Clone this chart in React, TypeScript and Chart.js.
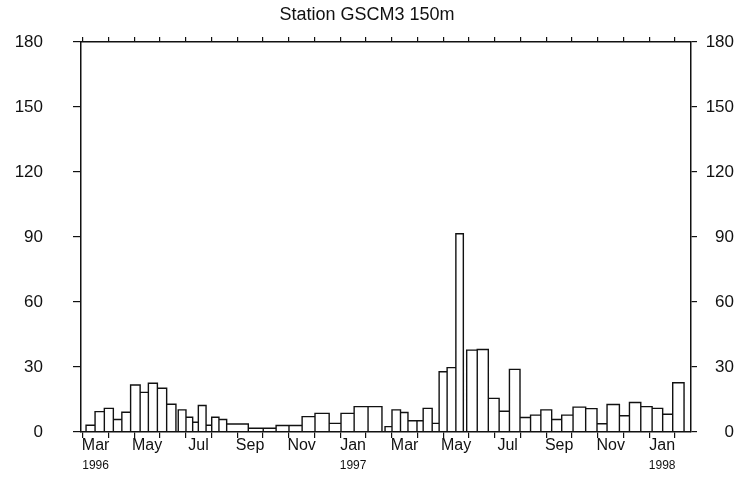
import { useEffect, useRef } from "react";
import { Chart, registerables } from "chart.js";

Chart.register(...registerables);

// Trap sampling intervals, in months counted from 1 March 1996
const binStart = [
  0.13, 0.48, 0.84, 1.19, 1.52, 1.86, 2.23, 2.55, 2.9, 3.26, 3.71, 4.01, 4.27, 4.49, 4.79,
  5.01, 5.29, 5.59, 6.43, 7.01, 7.51, 8.01, 8.52, 9.02, 9.57, 10.03, 10.54, 11.08, 11.74,
  12.01, 12.34, 12.63, 12.98, 13.22, 13.57, 13.84, 14.15, 14.49, 14.91, 15.32, 15.75, 16.17,
  16.57, 16.98, 17.39, 17.79, 18.21, 18.6, 19.04, 19.53, 19.97, 20.36, 20.84, 21.23, 21.67,
  22.11, 22.52, 22.91,
];
const binEnd = [
  0.48, 0.84, 1.19, 1.52, 1.86, 2.23, 2.55, 2.9, 3.26, 3.62, 4.01, 4.27, 4.49, 4.79, 5.01,
  5.29, 5.59, 6.43, 7.01, 7.51, 8.01, 8.52, 9.02, 9.57, 10.03, 10.54, 11.08, 11.62, 12.01,
  12.34, 12.63, 12.98, 13.22, 13.57, 13.84, 14.15, 14.49, 14.78, 15.32, 15.75, 16.17, 16.57,
  16.98, 17.39, 17.79, 18.21, 18.6, 19.04, 19.53, 19.97, 20.36, 20.84, 21.23, 21.67, 22.11,
  22.52, 22.91, 23.35,
];
// Flux measured in each interval
const flux = [
  3.1, 9.4, 10.9, 5.8, 9.1, 21.7, 18.3, 22.5, 20.2, 12.8, 10.2, 6.8, 4.5, 12.2, 3.1,
  6.8, 5.8, 3.7, 1.7, 1.7, 3.0, 3.0, 7.1, 8.6, 4.0, 8.6, 11.7, 11.7, 2.5,
  10.2, 9.0, 5.2, 5.2, 10.9, 4.0, 27.8, 29.7, 91.5, 37.8, 38.1, 15.5, 9.6,
  28.9, 6.7, 7.8, 10.2, 5.8, 7.8, 11.5, 10.8, 3.8, 12.7, 7.5, 13.6, 11.7,
  10.9, 8.2, 22.7,
];

// Months from March 1996 to February 1998; every second one is labelled
const months = [
  "Mar", "Apr", "May", "Jun", "Jul", "Aug", "Sep", "Oct", "Nov", "Dec", "Jan", "Feb",
  "Mar", "Apr", "May", "Jun", "Jul", "Aug", "Sep", "Oct", "Nov", "Dec", "Jan", "Feb",
];
const yearAt = [0.5, 10.5, 22.5];
const yearNames = ["1996", "1997", "1998"];
const yTicks = [0, 30, 60, 90, 120, 150, 180];

const X_MIN = -0.066;
const X_MAX = 23.62;

export default function App() {
  const ref = useRef<HTMLCanvasElement>(null);

  useEffect(() => {
    // Outline of each interval as a box: up from the base, across, back down
    const outline: { x: number; y: number }[] = [];
    binStart.forEach((s, i) => {
      const e = binEnd[i];
      const v = flux[i];
      outline.push({ x: s, y: 0 }, { x: s, y: v }, { x: e, y: v }, { x: e, y: 0 });
    });

    const ink = "#111";
    const family = "'Liberation Sans', Arial, sans-serif";

    const chart = new Chart(ref.current!, {
      type: "scatter",
      data: {
        datasets: [
          {
            data: outline,
            showLine: true,
            borderColor: ink,
            borderWidth: 1.4,
            pointRadius: 0,
            fill: false,
            tension: 0,
            xAxisID: "x",
            yAxisID: "y",
          },
        ],
      },
      options: {
        animation: false,
        responsive: false,
        layout: { padding: { left: 0, right: 7, top: 0, bottom: 0 } },
        plugins: {
          legend: { display: false },
          tooltip: { enabled: false },
          title: {
            display: true,
            text: "Station GSCM3 150m",
            color: ink,
            font: { family, size: 18, weight: "normal", lineHeight: "20px" },
            padding: { top: 5, bottom: 0 },
          },
        },
        scales: {
          x: {
            type: "linear",
            position: "bottom",
            min: X_MIN,
            max: X_MAX,
            afterBuildTicks: (s: any) => {
              s.ticks = months.map((_, k) => ({ value: k + 0.5 }));
            },
            afterFit: (s: any) => {
              s.height = 22;
            },
            ticks: {
              autoSkip: false,
              maxRotation: 0,
              minRotation: 0,
              padding: 0,
              color: ink,
              font: { family, size: 16, lineHeight: 1 },
              callback: (_v: any, i: number) => (i % 2 === 0 ? months[i] : ""),
            },
            grid: { offset: true, drawOnChartArea: false, tickLength: 6, color: ink, lineWidth: 1.2 },
            border: { color: ink, width: 1.5 },
          },
          x2: {
            type: "linear",
            position: "bottom",
            weight: 1,
            min: X_MIN,
            max: X_MAX,
            afterBuildTicks: (s: any) => {
              s.ticks = yearAt.map((v) => ({ value: v }));
            },
            afterFit: (s: any) => {
              s.height = 25;
            },
            ticks: {
              autoSkip: false,
              maxRotation: 0,
              minRotation: 0,
              padding: 6,
              color: ink,
              font: { family, size: 12, lineHeight: 1 },
              callback: (_v: any, i: number) => yearNames[i],
            },
            grid: { display: false, drawTicks: false },
            border: { display: false },
          },
          xt: {
            type: "linear",
            position: "top",
            min: X_MIN,
            max: X_MAX,
            afterBuildTicks: (s: any) => {
              s.ticks = months.map((_, k) => ({ value: k }));
            },
            afterFit: (s: any) => {
              s.height = 17;
            },
            ticks: { display: false },
            grid: { drawOnChartArea: false, tickLength: 5, color: ink, lineWidth: 1.2 },
            border: { color: ink, width: 1.5 },
          },
          y: {
            type: "linear",
            position: "left",
            min: 0,
            max: 180,
            afterBuildTicks: (s: any) => {
              s.ticks = yTicks.map((v) => ({ value: v }));
            },
            afterFit: (s: any) => {
              s.width = 81;
            },
            ticks: { padding: 30, crossAlign: "near", color: ink, font: { family, size: 17 } },
            grid: { drawOnChartArea: false, tickLength: 8, color: ink, lineWidth: 1.2 },
            border: { color: ink, width: 1.5 },
          },
          y2: {
            type: "linear",
            position: "right",
            min: 0,
            max: 180,
            afterBuildTicks: (s: any) => {
              s.ticks = yTicks.map((v) => ({ value: v }));
            },
            afterFit: (s: any) => {
              s.width = 43;
            },
            ticks: { padding: 4, crossAlign: "far", color: ink, font: { family, size: 17 } },
            grid: { drawOnChartArea: false, tickLength: 6, color: ink, lineWidth: 1.2 },
            border: { color: ink, width: 1.5 },
          },
        },
      } as any,
    });

    return () => chart.destroy();
  }, []);

  return (
    <div style={{ position: "fixed", left: 0, top: 0, width: 741, height: 479, background: "#fff" }}>
      <canvas ref={ref} width={741} height={479} style={{ display: "block" }} />
    </div>
  );
}
